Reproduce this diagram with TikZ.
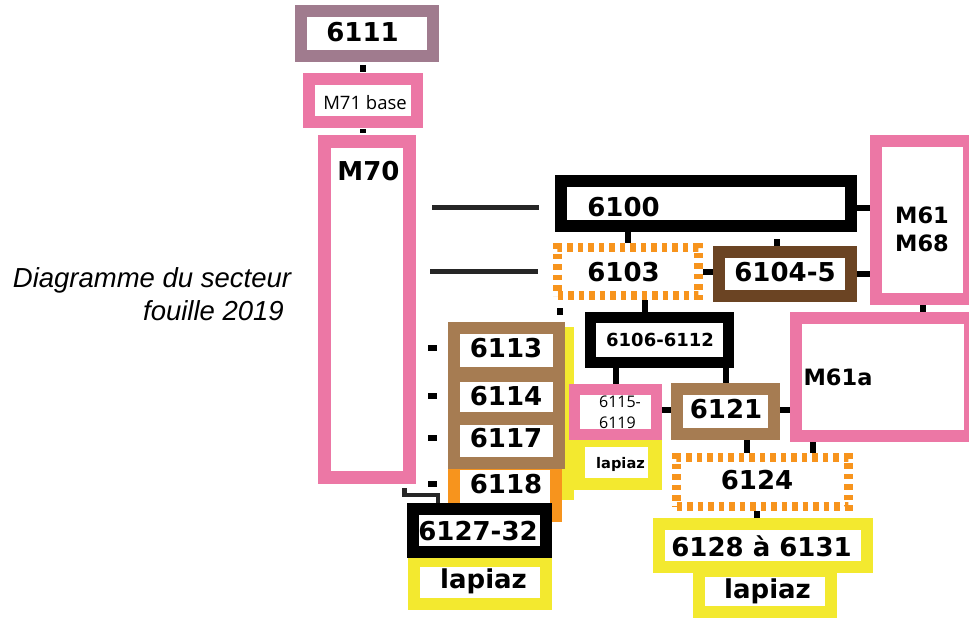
\documentclass[tikz,border=0pt]{standalone}
\usepackage{fontspec}
\setmainfont{DejaVu Sans}
\newfontfamily\regfont{Open Sans}
\newfontfamily\capfont{Liberation Sans}
\definecolor{mauve}{HTML}{A07B8E}
\definecolor{pinkc}{HTML}{EC77A5}
\definecolor{brownc}{HTML}{A67C52}
\definecolor{dbrown}{HTML}{6B4423}
\definecolor{orangec}{HTML}{F7941D}
\definecolor{yellowc}{HTML}{F3E92F}
\begin{document}
\begin{tikzpicture}[x=1pt,y=-1pt,
  box/.style={draw=#1, fill=white, line width=12pt, outer sep=6pt, inner sep=0pt},
  dbox/.style={draw=orangec, fill=white, line width=9pt, outer sep=4.5pt, inner sep=0pt, dash pattern=on 5.5pt off 5pt},
  big/.style={font=\bfseries\fontsize{26}{30}\selectfont, inner sep=0pt},
  mid/.style={font=\bfseries\fontsize{22.5}{28}\selectfont, inner sep=0pt, align=center},
  conn/.style={draw=black, line width=6pt},
  lline/.style={draw=black!85, line width=5pt},
  bracket/.style={draw=black!85, line width=4.5pt},
]
\useasboundingbox (0,0) rectangle (969,618);

% caption
\node[font=\capfont\itshape\fontsize{27.5}{33}\selectfont, anchor=base, inner sep=0pt] (cap1) at (152,287) {Diagramme du secteur};
\node[font=\capfont\itshape\fontsize{27.5}{33}\selectfont, anchor=base east, inner sep=0pt] (cap2) at (284,320) {fouille 2019};

% top column
\node[box=mauve, minimum width=132pt, minimum height=45pt] (n6111) at (367,33.5) {};
\node[big] (t6111) at (362.5,32) {6111};
\node[box=pinkc, minimum width=108pt, minimum height=43pt] (M71) at (363,100.5) {};
\node[font=\regfont\fontsize{18.5}{21}\selectfont, inner sep=0pt] (tM71) at (365,103) {M71 base};
\node[box=pinkc, line width=13pt, outer sep=6.5pt, minimum width=85pt, minimum height=336pt] (M70) at (367,309.5) {};
\node[big] (tM70) at (368.5,171.5) {M70};

% right part
\node[box=black, minimum width=290pt, minimum height=45pt] (n6100) at (706,203.5) {};
\node[big] (t6100) at (623.5,207.5) {6100};
\node[box=pinkc, minimum width=93pt, minimum height=158pt] (M61) at (922.5,220) {};
\node[mid] (tM61) at (922,229) {M61\\M68};
\node[dbox, minimum width=141pt, minimum height=48pt] (n6103) at (628,271.5) {};
\node[big] (t6103) at (623.5,272.5) {6103};
\node[box=dbrown, minimum width=132pt, minimum height=44pt] (n6104) at (785,274) {};
\node[big] (t6104) at (785,272.5) {6104-5};
\node[box=black, line width=11pt, outer sep=5.5pt, minimum width=138pt, minimum height=45pt] (n6106) at (659.5,340) {};
\node[font=\bfseries\fontsize{18}{22}\selectfont, inner sep=0pt] (t6106) at (660,340) {6106-6112};
\node[box=pinkc, minimum width=174pt, minimum height=118pt] (M61a) at (883,377) {};
\node[mid] (tM61a) at (838,377.5) {M61a};

% yellow strip and small lapiaz
\node[fill=yellowc, inner sep=0pt, minimum width=12pt, minimum height=173pt] (ystrip) at (568,413.5) {};
\node[fill=yellowc, inner sep=0pt, minimum width=100pt, minimum height=62pt] (lapSbg) at (612,459) {};
\node[fill=white, inner sep=0pt, minimum width=63pt, minimum height=31pt] (lapS) at (616.5,462.5) {};
\node[font=\bfseries\fontsize{14.6}{18}\selectfont, inner sep=0pt] (tlapS) at (620.5,464) {lapiaz};

% stack
\node[box=orangec, minimum width=102pt, minimum height=52pt] (n6118) at (505,490) {};
\node[box=brownc, minimum width=105pt, minimum height=44pt] (n6117) at (506.5,441) {};
\node[box=brownc, minimum width=105pt, minimum height=42pt] (n6114) at (506.5,397) {};
\node[box=brownc, minimum width=105pt, minimum height=45pt] (n6113) at (506.5,350.5) {};
\node[big] (t6113) at (506,348) {6113};
\node[big] (t6114) at (506,396) {6114};
\node[big] (t6117) at (506,438) {6117};
\node[big] (t6118) at (506,484) {6118};

\node[box=pinkc, line width=11pt, outer sep=5.5pt, minimum width=82pt, minimum height=45pt] (n6115) at (615.5,412) {};
\node[font=\regfont\fontsize{16}{21}\selectfont, inner sep=0pt, align=left] (t6115) at (620,412) {6115-\\6119};
\node[box=brownc, minimum width=97pt, minimum height=45pt] (n6121) at (725.5,411.5) {};
\node[big] (t6121) at (726,409.5) {6121};
\node[dbox, minimum width=172pt, minimum height=49pt] (n6124) at (762.5,482) {};
\node[big] (t6124) at (757,480.5) {6124};

% bottom right
\node[box=yellowc, minimum width=132pt, minimum height=41pt] (lap2) at (765,591.5) {};
\node[big] (tlap2) at (767.5,591.5) {lapiaz};
\node[box=yellowc, minimum width=208pt, minimum height=43pt] (n6128) at (763,545.5) {};
\node[big] (t6128) at (761.5,546) {6128 à 6131};

% bottom left
\node[box=yellowc, minimum width=132pt, minimum height=43pt] (lap1) at (480,582.5) {};
\node[big] (tlap1) at (483.5,581) {lapiaz};
\node[box=black, minimum width=133pt, minimum height=43pt] (n6127) at (479.5,530.5) {};
\node[big] (t6127) at (478,531.5) {6127-32};

% helper coordinates
\coordinate (c6104) at ([xshift=-8pt]n6104.north);
\coordinate (c6106) at ([xshift=-14.5pt]n6106.north);
\coordinate (c6113) at ([xshift=53.5pt]n6113.north);
\coordinate (c6124a) at ([xshift=-16pt]n6124.north);
\coordinate (c6124b) at ([xshift=50pt]n6124.north);
\coordinate (b1) at ([xshift=-11.5pt]M70.south east);
\coordinate (b2) at ([xshift=-41.5pt]n6127.north);

% connectors
\draw[conn, shorten <=3pt, shorten >=1pt] (n6111.south -| M71.north) -- (M71.north);
\draw[conn, shorten <=1pt, shorten >=2pt] (M71.south) -- (M70.north -| M71.south);
\draw[lline, shorten <=16pt, shorten >=16pt] (M70.east |- t6100) -- (n6100.west |- t6100);
\draw[lline, shorten <=14pt, shorten >=15pt] (M70.east |- n6103) -- (n6103.west);
\draw[conn] (n6100.south -| n6103.north) -- (n6103.north);
\draw[conn, shorten <=7pt] (c6104 |- n6100.south) -- (c6104);
\draw[conn] (n6100.east |- t6100) -- (M61.west |- t6100);
\draw[conn] (n6103.east) -- (n6104.west |- n6103.east);
\draw[conn] (n6104.east) -- (M61.west |- n6104.east);
\draw[conn] (M61.south) -- (M61a.north -| M61.south);
\draw[conn] (c6106 |- n6103.south) -- (c6106);
\draw[conn, shorten <=8pt, shorten >=7pt] (c6113 |- n6103.south) -- (c6113);
\foreach \k in {6113,6114,6117,6118}
  \draw[conn, shorten <=12pt, shorten >=11pt] (M70.east |- t\k) -- (n\k.west |- t\k);
\draw[conn] (n6106.south -| n6115.north) -- (n6115.north);
\draw[conn] (n6106.south -| n6121.north) -- (n6121.north);
\draw[conn] (n6115.east |- t6121) -- (n6121.west |- t6121);
\draw[conn] (n6121.east |- t6121) -- (M61a.west |- t6121);
\draw[conn] (c6124a |- n6121.south) -- (c6124a);
\draw[conn] (c6124b |- M61a.south) -- (c6124b);
\draw[conn] (n6124.south -| t6124) -- (n6128.north -| t6124);
\draw[bracket] (b1) ++(0,4) -- ++(0,7) -| (b2);
\end{tikzpicture}
\end{document}
